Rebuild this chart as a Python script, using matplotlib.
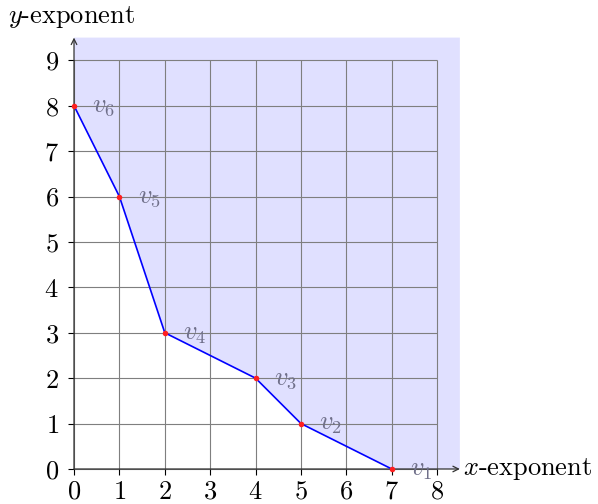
import matplotlib
matplotlib.use("Agg")
import matplotlib.pyplot as plt

plt.rcParams["font.family"] = "cmr10"
plt.rcParams["mathtext.fontset"] = "cm"
plt.rcParams["axes.formatter.use_mathtext"] = True

# vertices of the Newton polygon (x-exponent, y-exponent)
vx = [7, 5, 4, 2, 1, 0]
vy = [0, 1, 2, 3, 6, 8]
vlabels = [r"$v_1$", r"$v_2$", r"$v_3$", r"$v_4$", r"$v_5$", r"$v_6$"]
xticks = list(range(0, 9))
yticks = list(range(0, 10))
x_max, y_max = 8.5, 9.5

FS = 19
GRID = "#7f7f7f"
SHADE = "#e0e0ff"

fig = plt.figure(figsize=(5.98, 5.04), dpi=100)
ax = fig.add_axes([0.0858, 0.0244, 0.6908, 0.910])
ax.set_xlim(-0.5, 8.6)
ax.set_ylim(-0.5, 9.6)

# shaded region above the polygon
px = [0] + vx[::-1] + [x_max, x_max]
py = [y_max] + vy[::-1] + [0, y_max]
ax.fill(px, py, color=SHADE, lw=0, zorder=0)

# grid
ax.vlines(xticks, 0, max(yticks), color=GRID, lw=0.8, zorder=1)
ax.hlines(yticks, 0, max(xticks), color=GRID, lw=0.8, zorder=1)

# axes with arrows
for side in ("top", "right"):
    ax.spines[side].set_visible(False)
ax.spines["left"].set_position(("data", 0))
ax.spines["bottom"].set_position(("data", 0))
ax.spines["left"].set_color("none")
ax.spines["bottom"].set_color("none")
ax.annotate("", xy=(x_max, 0), xytext=(0, 0),
            arrowprops=dict(arrowstyle="->", lw=0.9, color="#333333",
                            shrinkA=0, shrinkB=0), zorder=2)
ax.annotate("", xy=(0, y_max), xytext=(0, 0),
            arrowprops=dict(arrowstyle="->", lw=0.9, color="#333333",
                            shrinkA=0, shrinkB=0), zorder=2)

ax.set_xticks(xticks)
ax.set_yticks(yticks)
ax.tick_params(direction="out", length=4, width=0.8, color="black",
               labelsize=FS)
ax.tick_params(axis="x", pad=4)
ax.tick_params(axis="y", pad=7)

# polygon
ax.plot(vx, vy, color="#0000ff", lw=1.2, zorder=3)
ax.scatter(vx, vy, s=16, color="#ff2020", zorder=4, linewidths=0)
for x, y, lab in zip(vx, vy, vlabels):
    ax.text(x + 0.4, y - 0.02, lab, fontsize=FS, color="#70708a",
            ha="left", va="center", zorder=5)

ax.text(x_max + 0.08, 0, r"$x$-exponent", fontsize=FS, ha="left", va="center")
ax.text(-1.45, 9.96, r"$y$-exponent", fontsize=FS, ha="left", va="center")

fig.savefig("out.png", dpi=100)
